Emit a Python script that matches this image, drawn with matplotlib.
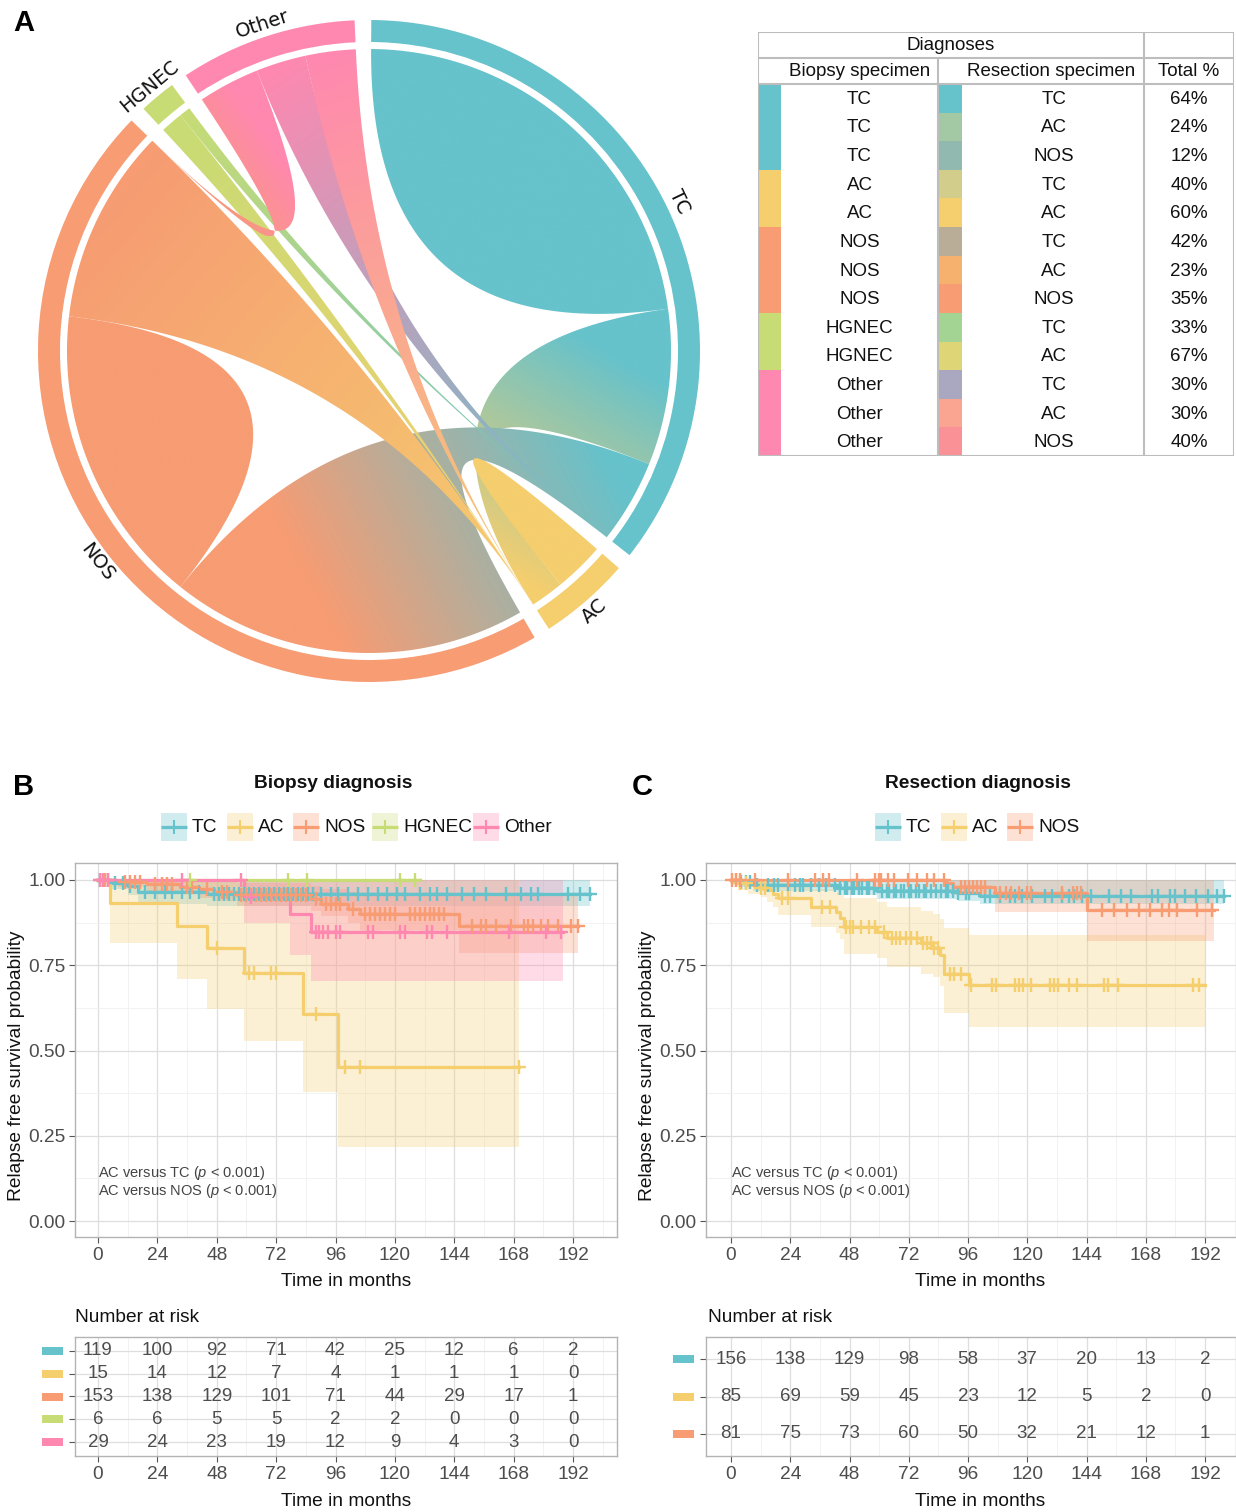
import numpy as np
import matplotlib
matplotlib.use("Agg")
import matplotlib.pyplot as plt
from matplotlib.patches import Wedge, Polygon, Rectangle
import matplotlib.transforms as mtransforms
from matplotlib.colors import to_rgb

plt.rcParams['font.family'] = ['Liberation Sans', 'DejaVu Sans']
plt.rcParams['mathtext.fontset'] = 'custom'
plt.rcParams['mathtext.rm'] = 'Liberation Sans'
plt.rcParams['mathtext.it'] = 'Liberation Sans:italic'

# ------------------------------------------------------------------ data
groups = ["TC", "AC", "NOS", "HGNEC", "Other"]
group_colors = ["#66C2CB", "#F5CE6E", "#F79C73", "#C8DC75", "#FF88B0"]
# biopsy (rows) -> resection (cols) counts
flow = np.array([[76, 28, 15, 0, 0],
                 [6, 9, 0, 0, 0],
                 [64, 35, 54, 0, 0],
                 [2, 4, 0, 0, 0],
                 [9, 9, 11, 0, 0]])

tab_biopsy = ["TC", "TC", "TC", "AC", "AC", "NOS", "NOS", "NOS", "HGNEC", "HGNEC", "Other", "Other", "Other"]
tab_resection = ["TC", "AC", "NOS", "TC", "AC", "TC", "AC", "NOS", "TC", "AC", "TC", "AC", "NOS"]
tab_pct = ["64%", "24%", "12%", "40%", "60%", "42%", "23%", "35%", "33%", "67%", "30%", "30%", "40%"]
tab_pair_colors = ["#66C2CB", "#A2C9A3", "#91B9AF", "#D3CD8B", "#F5CE6E", "#B9AD98", "#F6B16E",
                   "#F79C73", "#A3D494", "#DED676", "#AAA8C0", "#FAA591", "#FA9196"]

risk_times = [0, 24, 48, 72, 96, 120, 144, 168, 192]
risk_b = [[119, 100, 92, 71, 42, 25, 12, 6, 2],
          [15, 14, 12, 7, 4, 1, 1, 1, 0],
          [153, 138, 129, 101, 71, 44, 29, 17, 1],
          [6, 6, 5, 5, 2, 2, 0, 0, 0],
          [29, 24, 23, 19, 12, 9, 4, 3, 0]]
risk_c = [[156, 138, 129, 98, 58, 37, 20, 13, 2],
          [85, 69, 59, 45, 23, 12, 5, 2, 0],
          [81, 75, 73, 60, 50, 32, 21, 12, 1]]

# Panel B (biopsy) Kaplan-Meier estimates
b_tc_t = [5, 12, 16, 44]
b_tc_s = [0.992, 0.983, 0.966, 0.958]
b_tc_lo = [1.0, 0.975, 0.955, 0.930, 0.925]
b_tc_hi = [1.0, 1.0, 1.0, 1.0, 1.0]
b_tc_end = 199
b_tc_cens = [1, 3, 7, 10, 13, 19, 23, 27, 30, 34, 37, 41, 47, 49, 51, 53, 55, 57, 59, 61, 63, 65, 67,
             69, 71, 73, 75, 77, 79, 81, 83, 85, 87, 90, 94, 97, 101, 105, 109, 113, 117, 121, 124,
             130, 134, 137, 141, 147, 152, 157, 165, 171, 175, 178, 190, 195, 199]

b_ac_t = [5, 32, 44, 59, 83, 97]
b_ac_s = [0.933, 0.866, 0.800, 0.727, 0.606, 0.453]
b_ac_lo = [1.0, 0.814, 0.711, 0.623, 0.529, 0.377, 0.218]
b_ac_hi = [1.0, 1.0, 1.0, 1.0, 1.0, 1.0, 1.0]
b_ac_end = 170
b_ac_cens = [48, 61, 63, 70, 72, 88, 100, 106, 170]

b_nos_t = [8, 20, 33, 41, 47, 56, 86, 90, 101, 106, 146]
b_nos_s = [0.993, 0.987, 0.980, 0.973, 0.966, 0.956, 0.943, 0.931, 0.915, 0.899, 0.866]
b_nos_lo = [1.0, 0.980, 0.968, 0.958, 0.948, 0.938, 0.925, 0.908, 0.893, 0.873, 0.853, 0.786]
b_nos_hi = [1.0, 1.0, 1.0, 1.0, 0.998, 0.994, 0.990, 0.982, 0.975, 0.965, 0.958, 0.955]
b_nos_end = 194
b_nos_cens = [2, 3, 4, 11, 13, 15, 17, 23, 26, 28, 30, 36, 38, 44, 50, 52, 58, 60, 62, 64, 66, 68, 70,
              72, 74, 76, 78, 80, 82, 84, 88, 92, 94, 96, 98, 103, 108, 110, 112, 114, 116, 118, 120,
              126, 128, 130, 132, 134, 136, 138, 140, 151, 155, 157, 161, 167, 172, 174, 176, 179,
              182, 186, 191, 194]

b_hg_t = []
b_hg_s = []
b_hg_end = 130
b_hg_cens = [37, 77, 84.5, 122, 128]

b_ot_t = [59, 77.6, 86]
b_ot_s = [0.950, 0.900, 0.848]
b_ot_lo = [1.0, 0.873, 0.780, 0.704]
b_ot_hi = [1.0, 1.0, 1.0, 1.0]
b_ot_end = 188
b_ot_cens = [1, 2, 4, 34, 58, 62, 88, 89.5, 91, 93, 96, 98, 109, 111, 122, 124, 133, 135, 141, 166,
             181, 187]

# Panel C (resection) Kaplan-Meier estimates
c_tc_t = [4, 9, 43, 59, 92, 101]
c_tc_s = [0.993, 0.986, 0.977, 0.967, 0.961, 0.954]
c_tc_lo = [1.0, 0.980, 0.968, 0.955, 0.943, 0.938, 0.930]
c_tc_hi = [1.0, 1.0, 1.0, 1.0, 1.0, 1.0, 1.0]
c_tc_end = 199.5
c_tc_cens = [4, 6, 7.5, 10.5, 15, 17.5, 19, 23, 26, 28, 29, 32.5, 35.5, 38.5, 42, 44, 46, 47, 49, 50,
             52, 53, 55, 56, 58, 61, 63, 64, 66, 67, 69, 70, 72, 73, 75, 76, 78, 79, 81, 83, 85, 87,
             88, 90, 92, 95, 96.5, 103, 105, 109, 113, 115, 118, 122, 127, 130, 134, 137, 139, 142,
             146, 153, 158, 162, 170.5, 173, 178, 180, 184, 188.5, 193, 197, 199.5]

c_ac_t = [3, 7, 12, 14.5, 17, 19, 32.5, 42.6, 44, 45.7, 59, 63, 77, 82, 84.5, 86.3, 96.5]
c_ac_s = [0.990, 0.985, 0.978, 0.970, 0.960, 0.946, 0.920, 0.905, 0.890, 0.861, 0.848, 0.831,
          0.814, 0.802, 0.780, 0.725, 0.691]
c_ac_lo = [1.0, 0.970, 0.960, 0.950, 0.935, 0.920, 0.897, 0.862, 0.845, 0.828, 0.784, 0.770,
           0.745, 0.725, 0.716, 0.690, 0.611, 0.569]
c_ac_hi = [1.0, 1.0, 1.0, 1.0, 1.0, 0.995, 0.990, 0.975, 0.965, 0.955, 0.946, 0.935, 0.920,
           0.910, 0.900, 0.885, 0.860, 0.838]
c_ac_end = 192
c_ac_cens = [2, 3.6, 5.9, 12.2, 13.7, 20.8, 23, 37, 40, 46.5, 48, 49.6, 52.8, 55.9, 58.2, 62, 65.3,
             66.8, 68.4, 70.7, 73, 75.4, 77.7, 79.3, 80.9, 82.4, 84, 88.7, 90.2, 93.3, 97.3, 105.8,
             107.4, 115.2, 116.8, 118.3, 121.4, 129.3, 130.8, 132.4, 137, 140.2, 151, 152.7,
             156.6, 187, 189.4]

c_nos_t = [87, 90, 107, 144]
c_nos_s = [0.990, 0.980, 0.961, 0.912]
c_nos_lo = [1.0, 0.970, 0.955, 0.907, 0.820]
c_nos_hi = [1.0, 1.0, 1.0, 1.0, 1.0]
c_nos_end = 195.6
c_nos_cens = [0.5, 2, 3.6, 9.8, 23.1, 34, 37.2, 39.5, 51.2, 58.2, 59.8, 60.6, 63.7, 66, 71.5, 75.4,
              79.3, 82.4, 86.3, 93.3, 94.9, 96.5, 98, 99.6, 101.2, 102.7, 109, 111.3, 113.6, 116.8,
              119.9, 121.4, 133.9, 138.6, 140.2, 141.7, 150.3, 155, 160.5, 165.2, 169.8, 174.5,
              177.6, 180.8, 188.6, 194.8]

# ------------------------------------------------------------------ figure
W, H = 1236, 1512
DPI = 100
fig = plt.figure(figsize=(W / DPI, H / DPI), dpi=DPI)


def add_ax(l, t, r, b):
    return fig.add_axes([l / W, 1 - b / H, (r - l) / W, (b - t) / H])


def fig_text(x, y, s, **kw):
    return fig.text(x / W, 1 - y / H, s, **kw)


# ------------------------------------------------------------------ chord diagram
R_LINK = 302.0
cx, cy, half = 369, 351, 350
axc = add_ax(cx - half, cy - half, cx + half, cy + half)
axc.set_xlim(-half / R_LINK, half / R_LINK)
axc.set_ylim(-half / R_LINK, half / R_LINK)
axc.axis('off')

gap = 2.9
start = 89.6
totals = flow.sum(axis=1)
dpu = (360 - gap * len(groups)) / totals.sum()
sectors = []
a = start
for n in totals:
    sectors.append((a, a - n * dpu))
    a = a - n * dpu - gap

slots = {}
for i in range(len(groups)):
    order = sorted(range(len(groups)), key=lambda j: -flow[i][j])
    cur = sectors[i][0]
    for j in order:
        w = flow[i][j] * dpu
        slots[(i, j)] = (cur, cur - w)
        cur -= w


def arc(r, a1, a2, n=80):
    t = np.radians(np.linspace(a1, a2, n))
    return np.column_stack([r * np.cos(t), r * np.sin(t)])


def pt(ang, r=1.0):
    return np.array([r * np.cos(np.radians(ang)), r * np.sin(np.radians(ang))])


def bez(p0, p2, n=100):
    t = np.linspace(0, 1, n)[:, None]
    return (1 - t) ** 2 * p0 + t ** 2 * p2


def draw_chord(poly, ca, cb, pa, pb, z):
    patch = Polygon(poly, closed=True, facecolor='none', edgecolor='none')
    axc.add_patch(patch)
    x0, y0 = poly.min(axis=0)
    x1, y1 = poly.max(axis=0)
    xs = np.linspace(x0, x1, 300)
    ys = np.linspace(y0, y1, 300)
    X, Y = np.meshgrid(xs, ys)
    d = pb - pa
    dd = max(np.dot(d, d), 1e-9)
    tt = np.clip(((X - pa[0]) * d[0] + (Y - pa[1]) * d[1]) / dd, 0, 1)[..., None]
    img = np.array(ca)[None, None, :] * (1 - tt) + np.array(cb)[None, None, :] * tt
    im = axc.imshow(img, extent=(x0, x1, y0, y1), origin='lower', interpolation='bilinear',
                    zorder=z, aspect='auto')
    im.set_clip_path(patch)


z = 2
for i in range(len(groups)):
    for j in range(i, len(groups)):
        if i == j:
            if flow[i][i] == 0:
                continue
            a1, a2 = slots[(i, i)]
            poly = np.vstack([arc(1.0, a1, a2), bez(pt(a2), pt(a1))])
            c = to_rgb(group_colors[i])
            draw_chord(poly, c, c, pt(a1), pt(a2), z)
        else:
            if flow[i][j] == 0 and flow[j][i] == 0:
                continue
            a1, a2 = slots[(i, j)]
            b1, b2 = slots[(j, i)]
            poly = np.vstack([arc(1.0, a1, a2), bez(pt(a2), pt(b1)),
                              arc(1.0, b1, b2), bez(pt(b2), pt(a1))])
            draw_chord(poly, to_rgb(group_colors[i]), to_rgb(group_colors[j]),
                       pt((a1 + a2) / 2), pt((b1 + b2) / 2), z)
        z += 0.01

R1, R2, RL = 309 / R_LINK, 331 / R_LINK, 344 / R_LINK
for i, g in enumerate(groups):
    s0, s1 = sectors[i]
    axc.add_patch(Wedge((0, 0), R2, s1, s0, width=R2 - R1, facecolor=group_colors[i],
                        edgecolor='none', zorder=5))
    mid = (s0 + s1) / 2
    rot = (mid - 90 + 180) % 360 - 180
    if abs(rot) > 90:
        rot = rot + 180 if rot < 0 else rot - 180
    p = pt(mid, RL)
    axc.text(p[0], p[1], g, rotation=rot, rotation_mode='anchor', ha='center', va='center',
             fontsize=14, family='DejaVu Sans', color='#111111', zorder=6)

# ------------------------------------------------------------------ table
axt = add_ax(758, 32, 1234, 456)
axt.set_xlim(758, 1234)
axt.set_ylim(456, 32)
axt.axis('off')
col_edges = [758, 781, 938, 962, 1144, 1234]
row_top = 84
row_h = (456 - row_top) / len(tab_biopsy)
for k in range(len(tab_biopsy)):
    y0 = row_top + k * row_h
    gi = groups.index(tab_biopsy[k])
    axt.add_patch(Rectangle((col_edges[0], y0), col_edges[1] - col_edges[0], row_h + 0.3,
                            facecolor=group_colors[gi], edgecolor='none', zorder=1))
    axt.add_patch(Rectangle((col_edges[2], y0), col_edges[3] - col_edges[2], row_h + 0.3,
                            facecolor=tab_pair_colors[k], edgecolor='none', zorder=1))
    yc = y0 + row_h / 2 + 1
    axt.text((col_edges[1] + col_edges[2]) / 2, yc, tab_biopsy[k], ha='center', va='center',
             fontsize=13.5, color='#111111')
    axt.text((col_edges[3] + col_edges[4]) / 2 + 1, yc, tab_resection[k], ha='center', va='center',
             fontsize=13.5, color='#111111')
    axt.text((col_edges[4] + col_edges[5]) / 2, yc, tab_pct[k], ha='center', va='center',
             fontsize=13.5, color='#111111')
axt.text((col_edges[0] + col_edges[4]) / 2, 46, "Diagnoses", ha='center', va='center',
         fontsize=13.5, color='#111111')
axt.text((col_edges[1] + col_edges[2]) / 2, 72, "Biopsy specimen", ha='center', va='center',
         fontsize=13.5, color='#111111')
axt.text((col_edges[3] + col_edges[4]) / 2 - 2, 72, "Resection specimen", ha='center',
         va='center', fontsize=13.5, color='#111111')
axt.text((col_edges[4] + col_edges[5]) / 2, 72, "Total %", ha='center', va='center',
         fontsize=13.5, color='#111111')
lc = '#BDBDBD'
axt.plot([758, 1234, 1234, 758, 758], [32, 32, 456, 456, 32], color=lc, lw=1.5, zorder=3)
axt.plot([758, 1234], [58, 58], color=lc, lw=1.5, zorder=3)
axt.plot([758, 1234], [84, 84], color=lc, lw=1.5, zorder=3)
axt.plot([938, 938], [58, 456], color=lc, lw=1.5, zorder=3)
axt.plot([1144, 1144], [32, 456], color=lc, lw=1.5, zorder=3)

# ------------------------------------------------------------------ KM panels
TXT = '#4D4D4D'


def style_axes(ax, xlim, ylim):
    ax.set_xlim(*xlim)
    ax.set_ylim(*ylim)
    ax.set_xticks(risk_times)
    ax.set_xticks(np.arange(12, xlim[1], 24), minor=True)
    ax.grid(which='major', color='#DEDEDE', lw=0.9)
    ax.grid(which='minor', color='#F0F0F0', lw=0.6)
    ax.set_axisbelow(True)
    for sp in ax.spines.values():
        sp.set_color('#B3B3B3')
        sp.set_linewidth(1.0)
    ax.tick_params(which='major', length=4, width=0.8, color='#555555', labelsize=13.8,
                   labelcolor=TXT, pad=3)
    ax.tick_params(which='minor', length=0)


def km_group(ax, times, surv, lo, hi, end, cens, color):
    t = np.concatenate([[0], times, [end]])
    s = np.concatenate([[1.0], surv, [surv[-1] if len(surv) else 1.0]])
    if lo is not None:
        ax.fill_between(t, np.concatenate([lo, [lo[-1]]]), np.concatenate([hi, [hi[-1]]]),
                        step='post', color=color, alpha=0.3, lw=0, zorder=1)
    ax.step(t, s, where='post', color=color, lw=2.3, zorder=3)
    vals = np.concatenate([[1.0], surv])
    idx = np.searchsorted(np.array(times, dtype=float), cens, side='right')
    ax.plot(cens, vals[idx], ls='none', marker='+', ms=9.5, mew=1.7, color=color, zorder=4)


YLIM = (-(1237 - 1221) / 341, 1 + (880 - 863) / 341)


def km_panel(box, xlim, data):
    ax = add_ax(*box)
    for args in data:
        km_group(ax, *args)
    style_axes(ax, xlim, YLIM)
    ax.set_yticks([0, 0.25, 0.5, 0.75, 1.0])
    ax.set_yticklabels(['0.00', '0.25', '0.50', '0.75', '1.00'])
    ax.set_yticks([0.125, 0.375, 0.625, 0.875], minor=True)
    ax.text(0, 0.141, r"AC versus TC ($\mathit{p}$ < 0.001)", fontsize=10.5, color='#444444',
            va='center', ha='left')
    ax.text(0, 0.088, r"AC versus NOS ($\mathit{p}$ < 0.001)", fontsize=10.5, color='#444444',
            va='center', ha='left')
    return ax


dataB = [(b_tc_t, b_tc_s, b_tc_lo, b_tc_hi, b_tc_end, b_tc_cens, group_colors[0]),
         (b_ac_t, b_ac_s, b_ac_lo, b_ac_hi, b_ac_end, b_ac_cens, group_colors[1]),
         (b_nos_t, b_nos_s, b_nos_lo, b_nos_hi, b_nos_end, b_nos_cens, group_colors[2]),
         (b_hg_t, b_hg_s, None, None, b_hg_end, b_hg_cens, group_colors[3]),
         (b_ot_t, b_ot_s, b_ot_lo, b_ot_hi, b_ot_end, b_ot_cens, group_colors[4])]
dataC = [(c_tc_t, c_tc_s, c_tc_lo, c_tc_hi, c_tc_end, c_tc_cens, group_colors[0]),
         (c_ac_t, c_ac_s, c_ac_lo, c_ac_hi, c_ac_end, c_ac_cens, group_colors[1]),
         (c_nos_t, c_nos_s, c_nos_lo, c_nos_hi, c_nos_end, c_nos_cens, group_colors[2])]

XLIM_B = ((75 - 98) / 2.474, (617 - 98) / 2.474)
XLIM_C = ((706 - 731) / 2.469, (1254 - 731) / 2.469)
axB = km_panel((75, 863, 617, 1237), XLIM_B, dataB)
axC = km_panel((706, 863, 1254, 1237), XLIM_C, dataC)

for xc in (17, 647):
    fig_text(xc, 1066, "Relapse free survival probability", rotation=90, ha='center',
             va='center', fontsize=13.8, color='#111111')
fig_text(346, 1281, "Time in months", ha='center', va='center', fontsize=13.8, color='#111111')
fig_text(980, 1281, "Time in months", ha='center', va='center', fontsize=13.8, color='#111111')
fig_text(333, 784, "Biopsy diagnosis", ha='center', va='center', fontsize=13.8,
         fontweight='bold', color='#111111')
fig_text(978, 784, "Resection diagnosis", ha='center', va='center', fontsize=13.8,
         fontweight='bold', color='#111111')

# legends (keys drawn in a full-figure overlay in pixel units)
axo = fig.add_axes([0, 0, 1, 1])
axo.set_xlim(0, W)
axo.set_ylim(H, 0)
axo.axis('off')
legend_b_x = [161, 227, 293, 372, 473]
legend_c_x = [875, 941, 1007]
for xs, names, cols in [(legend_b_x, groups, group_colors),
                        (legend_c_x, groups[:3], group_colors[:3])]:
    for x0, nm, c in zip(xs, names, cols):
        axo.add_patch(Rectangle((x0, 813), 26, 28, facecolor=c, alpha=0.3, edgecolor='none'))
        axo.plot([x0, x0 + 26], [827, 827], color=c, lw=2.3, solid_capstyle='butt')
        axo.plot([x0 + 13], [827], marker='+', ms=10, mew=1.5, color=c)
        axo.text(x0 + 31, 828, nm, ha='left', va='center', fontsize=13.8, color='#111111')

# ------------------------------------------------------------------ risk tables


def risk_panel(box, xlim, counts, cols):
    ax = add_ax(*box)
    n = len(counts)
    style_axes(ax, xlim, (n + 0.587, 0.413))
    ax.set_yticks(range(1, n + 1))
    ax.set_yticklabels([])
    for k, row in enumerate(counts):
        for t, v in zip(risk_times, row):
            ax.text(t, k + 1, str(v), ha='center', va='center', fontsize=13.5, color=TXT)
    l, t_, r, b = box
    width = r - l
    row_px = (b - t_) / (n - 1 + 1.174)
    trans = mtransforms.blended_transform_factory(ax.transAxes, ax.transData)
    hh = 8 / row_px
    for k, c in enumerate(cols):
        ax.add_patch(Rectangle((-33 / width, k + 1 - hh / 2), 21 / width, hh, transform=trans,
                               facecolor=c, edgecolor='none', clip_on=False))
    return ax


risk_panel((75, 1337, 617, 1456), XLIM_B, risk_b, group_colors)
risk_panel((706, 1337, 1254, 1456), XLIM_C, risk_c, group_colors[:3])
fig_text(75, 1318, "Number at risk", ha='left', va='center', fontsize=13.8, color='#111111')
fig_text(708, 1318, "Number at risk", ha='left', va='center', fontsize=13.8, color='#111111')
fig_text(346, 1501, "Time in months", ha='center', va='center', fontsize=13.8, color='#111111')
fig_text(980, 1501, "Time in months", ha='center', va='center', fontsize=13.8, color='#111111')

# panel letters
fig_text(13, 23, "A", ha='left', va='center', fontsize=21, fontweight='bold')
fig_text(13, 787, "B", ha='left', va='center', fontsize=21, fontweight='bold')
fig_text(632, 787, "C", ha='left', va='center', fontsize=21, fontweight='bold')

fig.savefig("out.png", dpi=DPI)
